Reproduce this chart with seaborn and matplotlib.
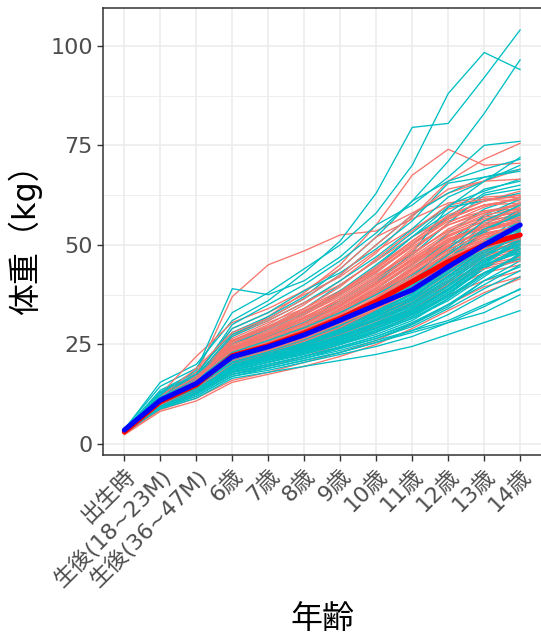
import numpy as np
import pandas as pd
import matplotlib
matplotlib.use("Agg")
import matplotlib.pyplot as plt
import seaborn as sns
from matplotlib.ticker import MultipleLocator

ages = ["出生時", "生後(18~23M)", "生後(36~47M)", "6歳", "7歳", "8歳", "9歳",
        "10歳", "11歳", "12歳", "13歳", "14歳"]

red_lines = [
    [3.2, 12.0, 17.5, 37.0, 45.0, 48.5, 52.5, 53.5, 58.0, 63.0, 66.0, 69.0],
    [3.4, 11.5, 16.5, 27.0, 32.0, 38.0, 45.0, 55.0, 67.5, 74.0, 70.0, 70.5],
    [3.1, 11.0, 16.0, 26.0, 30.0, 35.0, 41.0, 48.0, 57.0, 66.0, 71.5, 75.5],
    [3.0, 12.5, 22.0, 30.5, 34.0, 38.5, 44.0, 52.0, 56.5, 60.5, 62.0, 62.5],
    [2.9, 11.8, 18.0, 29.0, 33.0, 37.5, 42.0, 48.5, 54.0, 59.0, 61.5, 61.0],
    [3.3, 11.2, 16.2, 25.5, 29.0, 33.0, 38.0, 44.0, 51.0, 57.0, 61.0, 63.5],
    [3.0, 10.8, 15.5, 24.5, 27.5, 31.5, 36.5, 42.0, 49.0, 55.0, 58.5, 59.0],
    [2.8, 10.5, 15.0, 23.5, 27.0, 30.5, 35.0, 40.5, 46.5, 52.5, 56.0, 57.5],
    [3.1, 10.9, 15.2, 23.0, 26.0, 29.5, 33.5, 39.0, 45.0, 50.5, 54.5, 56.0],
    [3.0, 10.2, 14.6, 22.5, 25.5, 29.0, 33.0, 38.0, 44.5, 50.0, 53.0, 54.5],
    [2.7, 10.0, 14.0, 21.5, 24.5, 28.0, 32.0, 37.0, 42.5, 48.0, 52.0, 53.5],
    [3.2, 10.6, 14.8, 22.0, 25.0, 28.0, 31.5, 36.0, 41.5, 47.0, 51.0, 52.5],
    [2.9, 9.8, 13.8, 21.0, 23.5, 26.5, 30.0, 34.5, 40.0, 45.5, 49.5, 51.0],
    [3.0, 10.3, 14.2, 20.5, 23.0, 26.0, 29.5, 33.5, 39.0, 44.5, 48.0, 50.5],
    [2.6, 9.5, 13.5, 20.0, 22.5, 25.5, 28.5, 32.5, 38.0, 43.0, 47.0, 49.0],
    [3.3, 11.0, 15.0, 21.0, 23.5, 26.5, 30.0, 34.0, 38.5, 44.0, 47.5, 49.5],
    [2.8, 9.2, 13.0, 19.5, 22.0, 24.5, 27.5, 31.5, 36.5, 42.0, 46.0, 48.0],
    [3.0, 9.8, 13.6, 19.0, 21.5, 24.0, 27.0, 30.5, 35.0, 40.5, 44.5, 46.5],
    [2.5, 9.0, 12.5, 18.5, 20.5, 23.0, 26.0, 29.5, 34.0, 39.0, 43.0, 45.0],
    [3.1, 9.5, 12.8, 17.5, 19.5, 22.0, 25.0, 28.0, 32.5, 37.5, 41.0, 43.5],
    [2.6, 8.6, 11.5, 16.0, 18.0, 20.5, 23.0, 26.0, 30.0, 35.0, 39.5, 42.0],
    [2.3, 8.2, 10.8, 15.5, 17.5, 19.5, 22.0, 25.0, 29.0, 33.5, 38.0, 41.5],
    [3.4, 11.5, 17.0, 27.5, 31.0, 35.5, 40.0, 46.0, 52.0, 57.0, 60.0, 61.5],
    [3.2, 12.0, 16.8, 26.5, 30.5, 34.0, 38.5, 43.5, 50.0, 56.0, 58.5, 60.0],
    [3.0, 11.3, 16.0, 25.0, 28.5, 32.5, 37.0, 42.5, 48.0, 53.5, 57.0, 58.0],
    [2.9, 10.7, 15.3, 24.0, 27.0, 30.0, 34.5, 40.0, 46.0, 51.5, 55.0, 56.5],
    [3.1, 10.4, 14.9, 23.5, 26.5, 29.5, 33.0, 38.0, 43.5, 49.0, 52.5, 54.0],
    [2.8, 10.1, 14.4, 22.5, 25.0, 28.5, 32.5, 37.5, 43.0, 48.5, 51.0, 52.0],
    [3.0, 10.6, 15.1, 22.0, 24.5, 27.5, 31.0, 35.5, 41.0, 46.5, 50.5, 52.0],
    [2.7, 9.9, 14.0, 21.5, 24.0, 27.0, 30.5, 35.0, 40.5, 46.0, 49.0, 50.0],
    [3.2, 10.8, 14.7, 21.0, 23.5, 26.5, 29.5, 34.0, 39.5, 45.5, 49.0, 51.5],
    [2.9, 10.0, 14.3, 20.5, 23.0, 25.5, 29.0, 33.0, 38.0, 43.5, 47.5, 49.0],
    [3.0, 10.2, 13.9, 20.0, 22.5, 25.0, 28.0, 32.0, 37.0, 42.5, 46.5, 48.5],
    [3.1, 11.8, 19.0, 28.0, 31.5, 36.5, 42.5, 50.0, 57.5, 64.0, 66.0, 66.5],
    [3.3, 11.5, 17.0, 26.0, 29.5, 34.0, 39.5, 46.5, 53.5, 60.0, 61.5, 62.0],
    [2.8, 10.0, 14.5, 24.0, 28.0, 32.5, 37.5, 43.0, 50.0, 56.5, 60.0, 60.5],
    [3.0, 10.4, 14.9, 22.5, 25.5, 29.0, 34.0, 39.5, 45.5, 51.0, 55.5, 58.0],
    [2.9, 10.3, 14.6, 22.0, 25.0, 28.5, 32.0, 36.5, 42.0, 47.5, 51.5, 55.0],
    [3.1, 10.9, 15.4, 21.5, 24.0, 27.0, 30.5, 35.0, 40.0, 44.5, 48.5, 50.5],
    [2.7, 9.6, 13.4, 19.5, 21.5, 24.0, 27.5, 31.0, 36.0, 41.0, 45.0, 47.0],
    [3.0, 10.1, 14.0, 21.0, 23.5, 26.0, 29.0, 33.5, 38.5, 44.0, 48.0, 51.0],
    [3.2, 10.7, 15.6, 24.5, 28.0, 31.5, 35.5, 41.0, 47.0, 53.0, 56.5, 58.5],
    [2.8, 9.7, 13.2, 20.0, 22.0, 24.5, 27.5, 31.0, 35.5, 40.0, 44.0, 46.0],
    [3.0, 11.0, 16.0, 23.0, 26.0, 29.5, 34.0, 39.0, 45.0, 51.0, 55.0, 57.0],
    [2.9, 10.5, 14.8, 22.5, 25.5, 29.0, 33.5, 38.5, 44.0, 49.5, 53.5, 55.5],
    [3.1, 10.8, 15.0, 23.0, 26.5, 30.0, 34.5, 40.0, 46.5, 52.0, 56.0, 59.5],
    [2.9, 10.4, 14.7, 22.8, 26.0, 29.0, 33.0, 38.5, 44.0, 50.5, 55.0, 57.5],
    [3.0, 10.9, 15.3, 24.0, 27.5, 31.0, 35.5, 41.0, 47.5, 54.0, 58.0, 60.5],
    [3.2, 11.1, 15.8, 25.0, 28.0, 32.0, 36.0, 41.5, 48.5, 55.5, 59.5, 62.0],
    [2.8, 10.0, 14.2, 21.8, 24.5, 27.5, 31.5, 36.5, 42.0, 48.0, 52.5, 55.0],
    [3.0, 10.5, 14.9, 23.2, 26.0, 29.5, 33.5, 39.0, 45.5, 51.5, 54.0, 56.0],
    [3.1, 10.7, 15.1, 22.6, 25.5, 28.5, 32.5, 37.5, 43.5, 49.5, 53.5, 56.5],
    [2.7, 9.9, 14.1, 21.2, 23.8, 26.8, 30.8, 35.5, 41.5, 47.0, 50.5, 52.0],
    [3.3, 11.4, 16.3, 26.0, 29.5, 33.5, 38.0, 44.0, 50.5, 56.5, 60.0, 61.5],
    [3.0, 10.6, 15.0, 23.8, 27.2, 31.0, 35.0, 40.5, 46.0, 51.0, 54.5, 57.0],
    [2.9, 10.2, 14.5, 21.7, 24.3, 27.3, 31.2, 36.0, 41.5, 47.5, 52.0, 54.5],
    [3.1, 10.8, 15.2, 22.4, 25.3, 28.8, 32.8, 37.8, 43.8, 49.8, 53.8, 55.8],
    [2.8, 10.1, 14.3, 20.8, 23.5, 26.5, 30.2, 35.2, 40.8, 46.8, 51.0, 53.0],
    [3.2, 11.0, 15.5, 24.3, 27.8, 31.8, 36.5, 42.0, 48.0, 53.5, 57.5, 59.0],
    [3.0, 10.3, 14.4, 21.4, 24.0, 27.0, 30.8, 35.3, 40.5, 45.8, 49.5, 51.5],
    [2.9, 10.6, 14.9, 23.6, 26.8, 30.3, 34.8, 40.3, 46.3, 52.3, 56.0, 58.8],
    [3.1, 10.9, 15.6, 25.5, 29.0, 33.0, 37.8, 43.3, 49.5, 55.0, 58.0, 60.0],
    [2.8, 9.9, 13.9, 20.3, 22.8, 25.8, 29.3, 33.8, 39.3, 45.0, 49.0, 51.5],
    [3.0, 10.4, 14.6, 22.2, 25.2, 28.2, 31.8, 36.8, 42.8, 48.8, 52.8, 54.8],
    [3.2, 11.2, 15.9, 25.8, 29.3, 33.3, 38.3, 44.5, 51.0, 57.5, 61.0, 62.5],
]

cyan_lines = [
    [3.6, 15.5, 20.0, 31.0, 36.0, 43.0, 51.0, 63.0, 79.5, 80.5, 92.0, 104.0],
    [3.8, 14.5, 19.0, 33.0, 38.0, 44.0, 50.0, 58.0, 70.0, 88.0, 98.3, 94.0],
    [3.5, 13.5, 18.0, 28.0, 32.0, 37.0, 44.0, 52.0, 61.0, 71.0, 83.0, 96.5],
    [3.4, 13.0, 18.5, 39.0, 37.5, 41.0, 47.0, 55.0, 60.0, 67.0, 75.0, 76.0],
    [3.3, 12.5, 17.0, 30.0, 35.0, 40.0, 46.0, 53.0, 61.0, 66.0, 69.0, 71.5],
    [3.5, 12.8, 17.5, 29.0, 33.0, 38.5, 43.0, 49.0, 56.0, 65.5, 67.0, 68.5],
    [3.2, 12.0, 16.5, 27.0, 31.0, 35.5, 41.0, 47.0, 54.0, 62.0, 66.0, 70.0],
    [3.4, 11.8, 16.8, 26.0, 29.5, 34.0, 40.0, 46.0, 53.0, 60.0, 63.5, 66.5],
    [3.1, 11.5, 16.0, 25.0, 28.5, 32.5, 37.5, 43.0, 50.0, 57.0, 63.0, 65.0],
    [3.3, 11.9, 16.3, 25.5, 29.0, 33.0, 38.0, 44.5, 52.0, 59.5, 61.0, 63.0],
    [3.0, 11.0, 15.0, 23.0, 26.0, 29.5, 34.0, 39.0, 45.0, 53.0, 59.0, 62.0],
    [3.2, 11.2, 15.5, 22.5, 25.5, 29.0, 33.0, 38.0, 44.0, 51.0, 57.0, 60.5],
    [3.1, 10.8, 14.8, 21.5, 24.0, 27.0, 30.5, 34.5, 39.0, 46.0, 53.0, 58.5],
    [3.0, 10.5, 14.5, 21.0, 23.5, 26.5, 30.0, 33.5, 37.5, 44.0, 51.0, 57.0],
    [3.3, 11.3, 15.2, 20.5, 23.0, 25.5, 28.5, 32.0, 36.0, 42.0, 49.0, 55.0],
    [2.9, 10.2, 14.0, 20.0, 22.5, 25.0, 28.0, 31.0, 35.0, 40.5, 47.0, 53.5],
    [3.2, 10.9, 14.7, 19.5, 22.0, 24.5, 27.0, 30.0, 34.0, 39.0, 45.5, 52.0],
    [3.0, 10.4, 14.2, 19.5, 21.5, 24.0, 26.5, 29.5, 33.0, 38.0, 44.0, 50.0],
    [3.4, 11.6, 15.0, 20.0, 22.5, 25.0, 28.0, 31.5, 35.5, 41.0, 47.5, 51.0],
    [2.8, 9.8, 13.5, 18.5, 20.5, 22.5, 25.0, 28.0, 31.5, 36.0, 42.0, 48.0],
    [3.1, 10.0, 13.8, 19.0, 21.0, 23.5, 26.0, 29.0, 32.5, 37.0, 43.0, 47.0],
    [2.9, 9.5, 13.0, 18.0, 20.0, 22.0, 24.5, 27.0, 30.5, 35.0, 40.0, 45.0],
    [3.0, 9.2, 12.5, 17.5, 19.5, 21.5, 24.0, 26.5, 29.5, 34.0, 39.0, 43.5],
    [2.7, 9.0, 12.0, 17.0, 19.0, 21.0, 23.0, 25.5, 28.5, 32.5, 37.5, 42.0],
    [3.2, 8.8, 11.5, 16.5, 18.0, 19.5, 21.0, 22.5, 24.5, 27.5, 30.5, 33.5],
    [3.0, 9.0, 12.0, 17.0, 18.5, 20.5, 22.5, 24.5, 27.0, 30.5, 33.0, 37.5],
    [3.1, 9.5, 12.8, 18.0, 19.5, 21.5, 23.5, 26.0, 28.5, 31.0, 35.0, 38.8],
    [2.9, 9.3, 12.5, 17.5, 19.0, 21.0, 23.0, 25.5, 28.0, 30.5, 34.5, 39.0],
    [3.3, 10.6, 14.0, 20.5, 22.5, 25.0, 28.5, 32.5, 36.5, 43.0, 50.0, 56.5],
    [3.2, 11.0, 15.0, 22.0, 24.5, 27.5, 31.5, 36.0, 41.0, 48.0, 55.0, 60.0],
    [3.5, 12.2, 16.2, 24.0, 27.5, 31.0, 36.0, 41.5, 47.5, 55.5, 62.5, 64.0],
    [3.4, 12.5, 17.0, 27.5, 31.5, 36.5, 42.5, 50.0, 57.5, 63.0, 67.0, 69.0],
    [3.1, 10.7, 14.5, 20.0, 22.0, 24.5, 27.5, 31.0, 34.5, 40.0, 46.0, 50.5],
    [3.0, 10.3, 14.0, 19.0, 21.0, 23.0, 25.5, 28.5, 32.0, 37.5, 44.0, 49.0],
    [2.9, 10.0, 13.5, 18.5, 20.5, 22.5, 25.0, 27.5, 31.0, 36.5, 43.0, 46.5],
    [3.3, 11.4, 15.6, 21.0, 23.5, 26.0, 29.5, 33.0, 37.0, 43.5, 50.5, 54.0],
    [3.2, 10.8, 14.8, 20.5, 23.0, 25.5, 28.5, 32.0, 36.0, 42.0, 48.5, 52.5],
    [3.0, 10.1, 13.9, 19.5, 21.5, 23.5, 26.0, 29.0, 32.5, 37.5, 44.5, 48.5],
    [3.4, 11.7, 15.8, 22.5, 25.0, 28.0, 32.0, 36.5, 42.0, 49.5, 57.5, 61.5],
    [3.6, 13.0, 17.5, 25.0, 29.0, 33.0, 38.5, 45.0, 52.0, 58.0, 64.0, 66.0],
    [3.1, 10.5, 14.3, 19.8, 22.0, 24.0, 27.0, 30.0, 33.5, 38.5, 45.0, 51.5],
    [2.8, 9.6, 13.2, 18.2, 20.0, 22.0, 24.0, 26.5, 30.0, 34.5, 41.0, 46.0],
    [3.2, 11.1, 15.1, 21.5, 24.0, 27.0, 30.5, 34.5, 39.5, 46.5, 53.5, 59.0],
    [3.0, 10.6, 14.6, 20.8, 23.0, 25.5, 28.5, 32.5, 37.0, 43.0, 49.5, 54.5],
    [3.3, 11.5, 16.0, 24.0, 27.0, 30.5, 35.0, 40.5, 48.0, 59.5, 66.0, 72.0],
    [3.1, 10.6, 14.4, 20.3, 22.6, 25.2, 28.2, 31.5, 35.5, 41.5, 48.0, 53.0],
    [3.0, 10.2, 14.0, 19.8, 22.0, 24.5, 27.2, 30.5, 34.2, 39.5, 46.0, 51.0],
    [3.3, 11.2, 15.2, 21.2, 23.8, 26.6, 29.8, 33.5, 37.8, 44.0, 51.0, 55.5],
    [2.9, 10.0, 13.7, 19.2, 21.3, 23.6, 26.2, 29.2, 32.8, 38.0, 44.5, 49.5],
    [3.2, 10.9, 14.9, 20.8, 23.2, 25.8, 29.0, 32.8, 36.8, 42.8, 49.5, 54.0],
    [3.0, 10.4, 14.1, 19.6, 21.8, 24.2, 27.0, 30.0, 33.6, 39.0, 45.5, 50.5],
    [3.4, 11.5, 15.5, 21.8, 24.5, 27.5, 31.0, 35.0, 39.8, 46.5, 53.5, 58.0],
    [2.8, 9.7, 13.3, 18.6, 20.6, 22.8, 25.3, 28.2, 31.6, 36.5, 42.5, 47.5],
    [3.1, 10.7, 14.6, 20.2, 22.5, 25.0, 28.0, 31.3, 35.2, 41.0, 47.5, 52.5],
    [3.2, 11.0, 15.0, 21.0, 23.5, 26.2, 29.4, 33.2, 37.5, 44.0, 50.5, 56.0],
    [3.0, 10.1, 13.8, 19.3, 21.4, 23.8, 26.5, 29.6, 33.2, 38.5, 45.0, 48.0],
    [3.3, 11.3, 15.4, 22.0, 24.8, 28.0, 31.8, 36.2, 41.0, 47.5, 54.0, 57.5],
    [2.9, 9.9, 13.6, 18.9, 21.0, 23.2, 25.7, 28.6, 32.0, 37.0, 43.0, 47.5],
    [3.1, 10.5, 14.4, 20.0, 22.3, 24.8, 27.7, 31.0, 34.8, 40.5, 47.0, 51.5],
    [3.2, 10.8, 14.8, 20.6, 23.0, 25.6, 28.7, 32.2, 36.2, 42.2, 49.0, 53.5],
    [3.0, 10.3, 14.1, 19.7, 21.9, 24.3, 27.1, 30.3, 34.0, 39.8, 46.5, 50.0],
    [3.4, 11.8, 16.0, 23.0, 26.0, 29.2, 33.0, 37.5, 42.5, 49.0, 56.0, 60.0],
    [2.8, 9.4, 12.9, 18.0, 19.9, 22.0, 24.3, 27.0, 30.2, 35.0, 41.0, 44.5],
    [3.1, 10.6, 14.5, 20.4, 22.8, 25.4, 28.5, 32.0, 36.0, 42.0, 48.5, 52.0],
    [3.0, 10.2, 13.9, 19.4, 21.6, 24.0, 26.8, 29.9, 33.5, 38.8, 45.0, 49.0],
]

red_mean = [3.0, 10.6, 14.8, 22.2, 24.7, 27.9, 31.6, 35.8, 40.8, 45.8, 50.0, 52.5]
blue_mean = [3.5, 11.0, 15.2, 21.9, 24.4, 27.4, 31.1, 34.9, 38.7, 44.5, 50.0, 55.0]

RED_THIN = "#F8766D"
CYAN_THIN = "#00BFC4"

# ---- build tidy tables ----
rows = []
order = []
palette = {}
n = max(len(red_lines), len(cyan_lines))
for i in range(n):
    for tag, lines, col in (("r", red_lines, RED_THIN), ("c", cyan_lines, CYAN_THIN)):
        if i < len(lines):
            uid = f"{tag}{i}"
            order.append(uid)
            palette[uid] = col
            for a, w in zip(ages, lines[i]):
                rows.append({"age": a, "weight": w, "id": uid})
df = pd.DataFrame(rows)

mean_rows = []
for a, w in zip(ages, red_mean):
    mean_rows.append({"age": a, "weight": w, "grp": "F"})
for a, w in zip(ages, blue_mean):
    mean_rows.append({"age": a, "weight": w, "grp": "M"})
dfm = pd.DataFrame(mean_rows)

sns.set_style("white")
plt.rcParams["font.family"] = ["DejaVu Sans", "Noto Sans CJK JP"]

W, H = 541, 635
fig = plt.figure(figsize=(W / 100, H / 100), dpi=100)
left, right, top, bottom = 102.7, 541.8, 8.3, 455.0
ax = fig.add_axes([left / W, 1 - bottom / H, (right - left) / W, (bottom - top) / H])

sns.lineplot(data=df, x="age", y="weight", hue="id", hue_order=order,
             palette=palette, units="id", estimator=None, linewidth=0.95,
             legend=False, ax=ax)
sns.lineplot(data=dfm, x="age", y="weight", hue="grp", hue_order=["F", "M"],
             palette={"F": "#FF0000", "M": "#0000FF"}, estimator=None,
             linewidth=3.6, legend=False, ax=ax)

ax.set_xlim(-0.6, 11.6)
ax.set_ylim(-2.76, 109.4)
ax.yaxis.set_major_locator(MultipleLocator(25))
ax.yaxis.set_minor_locator(MultipleLocator(12.5))
ax.set_xticks(range(len(ages)))
ax.set_xticklabels(ages, rotation=45, ha="right", rotation_mode="anchor")

ax.set_facecolor("white")
ax.grid(True, which="major", color="#EBEBEB", linewidth=1.1)
ax.grid(True, which="minor", axis="y", color="#EBEBEB", linewidth=0.6)
ax.set_axisbelow(True)
for s in ax.spines.values():
    s.set_color("#333333")
    s.set_linewidth(1.1)

ax.tick_params(axis="both", which="major", length=4, width=1.0, color="#333333",
               labelcolor="#4D4D4D", labelsize=16, direction="out", pad=3)
ax.tick_params(axis="both", which="minor", length=0)
ax.tick_params(axis="x", bottom=True)
ax.tick_params(axis="y", left=True)

ax.set_xlabel("年齢", fontsize=23, color="black", labelpad=10)
ax.set_ylabel("体重（kg）", fontsize=23, color="black", labelpad=6)

fig.savefig("out.png", dpi=100)
